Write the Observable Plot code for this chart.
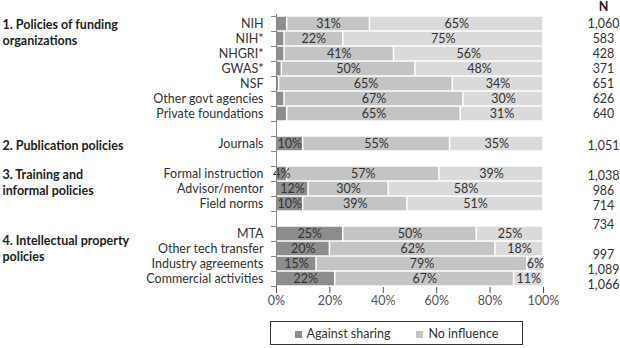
<!DOCTYPE html>
<html>
<head>
<meta charset="utf-8">
<script src="https://cdn.jsdelivr.net/npm/d3@7"></script>
<script src="https://cdn.jsdelivr.net/npm/@observablehq/plot@0.6"></script>
<style>
  html, body { margin: 0; padding: 0; background: #fff; }
  #chart { width: 620px; font-family: Lato, "Open Sans", sans-serif; }
  #legend { margin-left: 270px; width: 251px; height: 22px; border: 1px solid #333; display: flex; align-items: center; justify-content: center; gap: 26px; font-size: 12.5px; color: #333; margin-top: 8px; }
  #legend span.sw { display: inline-block; width: 7px; height: 7px; margin-right: 5px; vertical-align: middle; }
</style>
</head>
<body>
<div id="chart"></div>
<script>
// ---- data ----
const categories = ["NIH","NIH*","NHGRI*","GWAS*","NSF","Other govt agencies","Private foundations",
  "Journals","Formal instruction","Advisor/mentor","Field norms",
  "MTA","Other tech transfer","Industry agreements","Commercial activities"];
const groupOf = [1,1,1,1,1,1,1,2,3,3,3,4,4,4,4];
const groupLabels = ["1. Policies of funding\norganizations","2. Publication policies","3. Training and\ninformal policies","4. Intellectual property\npolicies"];
const against     = [4,3,3,2,1,3,4,10,4,12,10,25,20,15,22];
const noInfluence = [31,22,41,50,65,67,65,55,57,30,39,50,62,79,67];
const encourages  = [65,75,56,48,34,30,31,35,39,58,51,25,18,6,11];
const seriesNames = ["Against sharing","No influence","Encourages sharing"];
const seriesColors = ["#8d8d8d","#c4c4c4","#dadada"];
// N column as printed (row it sits beside)
const nRows   = ["NIH","NIH*","NHGRI*","GWAS*","NSF","Other govt agencies","Private foundations","Journals","Formal instruction","Advisor/mentor","Field norms","gap3","Other tech transfer","Industry agreements","Commercial activities"];
const nValues = ["1,060","583","428","371","651","626","640","1,051","1,038","986","714","734","997","1,089","1,066"];
const xTicks = [0,20,40,60,80,100];

// ---- build row domain with blank separators ----
const rows = [];
categories.forEach((c, i) => {
  if (i > 0 && groupOf[i] !== groupOf[i-1]) rows.push("gap" + groupOf[i-1]);
  rows.push(c);
});
const table = [];
categories.forEach((c, i) => {
  [against[i], noInfluence[i], encourages[i]].forEach((v, k) => {
    table.push({row: c, series: seriesNames[k], value: v,
      label: (k === 0 && groupOf[i] === 1) ? "" : v + "%"});
  });
});
const groupFirst = groupLabels.map((g, gi) => ({label: g, row: categories[groupOf.indexOf(gi+1)]}));
const groupDy = [7.5, 1, 8, 13.5];
const nTable = nRows.map((r, i) => ({row: r, n: nValues[i], i}));

const groupMarks = groupFirst.map((g, gi) =>
  Plot.text([g], {y: "row", x: () => 0, text: "label", dx: -274, dy: groupDy[gi],
    textAnchor: "start", fontWeight: "bold", fill: "#222", fontSize: 12.5, lineHeight: 1.28}));

const plot = Plot.plot({
  width: 620,
  height: 313,
  marginLeft: 276,
  marginRight: 77,
  marginTop: 14,
  marginBottom: 26,
  style: {fontFamily: "Lato, 'Open Sans', sans-serif", fontSize: "12.5px", color: "#333"},
  x: {domain: [0, 100], label: null},
  y: {domain: rows, paddingInner: 0, paddingOuter: 0, label: null},
  color: {domain: seriesNames, range: seriesColors},
  marks: [
    Plot.barX(table, Plot.stackX({x: "value", y: "row", fill: "series", z: "series", order: seriesNames,
      insetTop: 0.75, insetBottom: 0.75, insetLeft: 0.75, insetRight: 0.75})),
    Plot.text(table, Plot.stackX({x: "value", y: "row", z: "series", order: seriesNames,
      text: "label", fill: "#333", fontSize: 12.5})),
    Plot.ruleX([0], {stroke: "#888"}),
    Plot.ruleY(rows, {y: d => d, dy: -7.5, x1: 0, x2: 0, insetLeft: -5, stroke: "#888"}),
    Plot.ruleY(rows.slice(-1), {y: d => d, dy: 7.5, x1: 0, x2: 0, insetLeft: -5, stroke: "#888"}),
    Plot.axisY({tickSize: 0, tickPadding: 13, tickFormat: d => d.startsWith("gap") ? "" : d, fontSize: 12.5, color: "#333", label: null}),
    Plot.axisX({ticks: xTicks, tickFormat: d => d + "%", tickSize: 6, tickPadding: 3, fontSize: 12.5, color: "#555", label: null}),
    ...groupMarks,
    Plot.text(nTable.filter(d => d.i < 7), {y: "row", x: () => 100, text: "n", dx: 60, dy: 0, textAnchor: "middle", fill: "#333", fontSize: 12.5}),
    Plot.text(nTable.filter(d => d.i >= 7 && d.i < 11), {y: "row", x: () => 100, text: "n", dx: 60, dy: 2, textAnchor: "middle", fill: "#333", fontSize: 12.5}),
    Plot.text(nTable.filter(d => d.i >= 11), {y: "row", x: () => 100, text: "n", dx: 60, dy: 5.5, textAnchor: "middle", fill: "#333", fontSize: 12.5}),
    Plot.text(["N"], {y: () => rows[0], x: () => 100, text: d => d, dx: 60, dy: -17, textAnchor: "middle", fontWeight: "bold", fill: "#222", fontSize: 12.5})
  ]
});
document.getElementById("chart").appendChild(plot);

const legend = document.createElement("div");
legend.id = "legend";
legend.innerHTML = seriesNames.slice(0, 2).map((s, i) =>
  `<div><span class="sw" style="background:${seriesColors[i]}"></span>${s}</div>`).join("");
document.getElementById("chart").appendChild(legend);
</script>
</body>
</html>
